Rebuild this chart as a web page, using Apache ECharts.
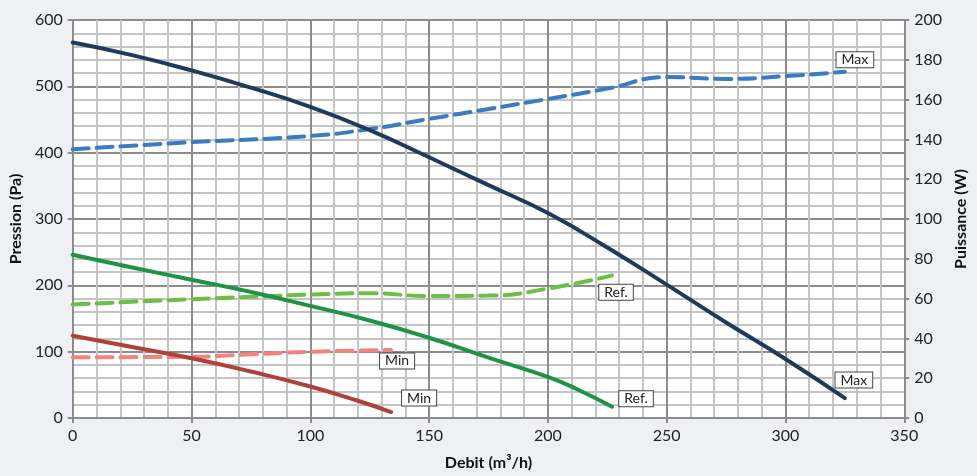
<!DOCTYPE html>
<html><head><meta charset="utf-8">
<script src="https://cdn.jsdelivr.net/npm/echarts@6/dist/echarts.min.js"></script>
<style>html,body{margin:0;padding:0;background:#eef0f4;}#c{width:977px;height:476px;}</style>
</head><body><div id="c"></div>
<script>
// Debit (m3/h) values for each curve
const maxX   = [0, 25, 50, 75, 100, 125, 150, 175, 200, 225, 250, 275, 300, 325];
const maxP   = [566, 547, 524, 498, 469, 434, 393, 351, 309, 257, 201, 144, 89, 30];
const maxWX  = [0, 50, 100, 125, 150, 175, 200, 225, 250, 275, 300, 325];
const maxW   = [135, 138.6, 141.7, 145.2, 150.3, 155.3, 160.3, 165.5, 171.3, 170.4, 171.8, 174];
const refX   = [0, 25, 50, 75, 100, 125, 150, 175, 200, 212.5, 227];
const refP   = [246, 227, 208.5, 190, 169, 147, 121, 91, 62, 43, 17];
const refWX  = [0, 50, 100, 125, 150, 175, 200, 227];
const refW   = [57, 59.7, 62, 62.7, 61.3, 61.5, 65, 71.7];
const minX   = [0, 25, 50, 75, 100, 120, 134];
const minP   = [124, 107, 90, 70, 47.5, 26, 9];
const minWX  = [0, 50, 75, 100, 134];
const minW   = [30.5, 30.8, 32, 33.3, 34.2];
const xTicks = [0, 50, 100, 150, 200, 250, 300, 350];

const FONT = 'Lato, "Noto Sans", sans-serif';
const pair = (xs, ys) => xs.map((x, i) => [x, ys[i]]);

function endMark(xs, ys, text, off) {
  const n = xs.length - 1;
  return {
    symbol: 'rect', symbolSize: 1, silent: true, animation: false,
    itemStyle: {color: 'rgba(0,0,0,0)'},
    data: [{coord: [xs[n], ys[n]],
      label: {show: true, formatter: text, position: 'inside', offset: off,
        backgroundColor: '#fff', borderColor: '#444', borderWidth: 1,
        padding: [1, 5, 0, 5], color: '#222', fontSize: 14, fontFamily: FONT}}]
  };
}

function lineSeries(xs, ys, color, dashed, yIdx, text, off) {
  return {
    type: 'line', yAxisIndex: yIdx, data: pair(xs, ys), showSymbol: false,
    smooth: 0.5, animation: false, z: dashed ? 3 : 4,
    lineStyle: {color: color, width: 4, type: dashed ? [16, 8] : 'solid', cap: 'round'},
    markPoint: endMark(xs, ys, text, off)
  };
}

const chart = echarts.init(document.getElementById('c'), null, {renderer: 'canvas'});
const axisCommon = {
  axisLine: {show: true, lineStyle: {color: '#8c8c8c', width: 2}},
  axisTick: {show: true, length: 5, lineStyle: {color: '#8c8c8c', width: 2}},
  axisLabel: {fontFamily: FONT, fontSize: 16, color: '#222', margin: 10}
};
chart.setOption({
  backgroundColor: '#eef0f4',
  animation: false,
  grid: {left: 72, right: 65, top: 20, bottom: 56, show: true, backgroundColor: '#fff', borderWidth: 0},
  xAxis: Object.assign({
    type: 'value', min: xTicks[0], max: xTicks[xTicks.length - 1], interval: 50,
    name: 'Debit (m³/h)', nameLocation: 'middle', nameGap: 37,
    nameTextStyle: {fontFamily: FONT, fontWeight: 'bold', fontSize: 16, color: '#111'},
    splitLine: {show: true, lineStyle: {color: '#8c8c8c', width: 2}},
    minorTick: {show: false, splitNumber: 5},
    minorSplitLine: {show: true, lineStyle: {color: '#c4c4c4', width: 2}}
  }, axisCommon),
  yAxis: [Object.assign({
    type: 'value', min: 0, max: 600, interval: 100, position: 'left',
    name: 'Pression (Pa)', nameLocation: 'middle', nameGap: 47, nameRotate: 90,
    nameTextStyle: {fontFamily: FONT, fontWeight: 'bold', fontSize: 16, color: '#111'},
    splitLine: {show: true, lineStyle: {color: '#8c8c8c', width: 2}},
    minorTick: {show: false, splitNumber: 5},
    minorSplitLine: {show: true, lineStyle: {color: '#c4c4c4', width: 2}}
  }, axisCommon), Object.assign({
    type: 'value', min: 0, max: 200, interval: 20, position: 'right',
    name: 'Puissance (W)', nameLocation: 'middle', nameGap: 48, nameRotate: 90,
    nameTextStyle: {fontFamily: FONT, fontWeight: 'bold', fontSize: 16, color: '#111'},
    splitLine: {show: false}
  }, axisCommon)],
  series: [
    lineSeries(maxWX, maxW, '#3a7cc4', true, 1, 'Max', [10, -12]),
    lineSeries(refWX, refW, '#6cbf45', true, 1, 'Ref.', [4, 17]),
    lineSeries(minWX, minW, '#f2837e', true, 1, 'Min', [6, 11]),
    lineSeries(maxX, maxP, '#1f3b5c', false, 0, 'Max', [9, -18]),
    lineSeries(refX, refP, '#1e9346', false, 0, 'Ref.', [24, -8]),
    lineSeries(minX, minP, '#b0403a', false, 0, 'Min', [28, -14])
  ]
});
</script></body></html>
